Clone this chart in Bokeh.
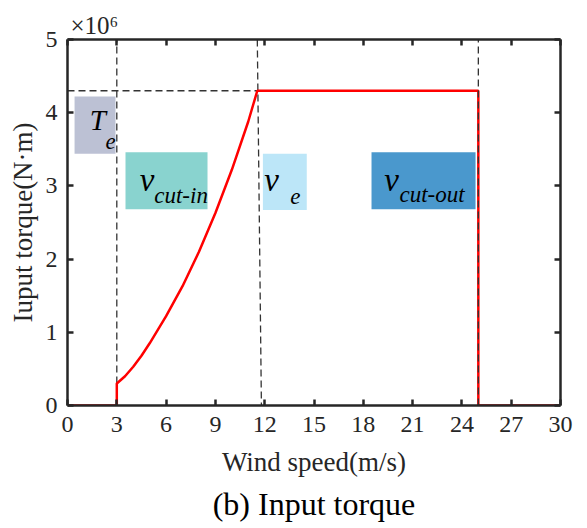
from bokeh.plotting import figure
from bokeh.models import Label, LinearAxis, FixedTicker, Range1d, Title
from bokeh.embed import file_html
from bokeh.resources import INLINE

# ---- data (torque in units of 10^6 N·m) ----
wind_speed = [0, 3, 3, 3.5, 4, 4.5, 5, 6, 7, 8, 9, 10, 11, 11.55, 25, 25, 30]
torque_1e6 = [0, 0, 0.30, 0.40, 0.53, 0.68, 0.85, 1.22, 1.63, 2.10, 2.63, 3.22, 3.88, 4.30, 4.30, 0, 0]
rated_torque = 4.30
v_cut_in = 3
v_rated = 11.55
v_cut_out = 25
x_ticks = [0, 3, 6, 9, 12, 15, 18, 21, 24, 27, 30]
y_ticks = [0, 1, 2, 3, 4, 5]

# region boxes (data coordinates) and colours
box_left = [0.43, 3.53, 11.89, 18.5]
box_right = [2.92, 8.52, 14.56, 24.83]
box_bottom = [3.44, 2.68, 2.67, 2.68]
box_top = [4.22, 3.46, 3.44, 3.46]
box_colors = ["#bcc1d4", "#89d3cf", "#bce6f8", "#4a98cd"]

FONT = "Liberation Serif"
AX = "#262626"

p = figure(width=587, height=528, output_backend="svg", toolbar_location=None,
           x_range=Range1d(0, 30), y_range=Range1d(0, 5),
           min_border_left=67, min_border_right=27, min_border_top=39, min_border_bottom=123,
           x_axis_label="Wind speed(m/s)", y_axis_label="Iuput torque(N·m)")
p.outline_line_color = None
p.xgrid.visible = False
p.ygrid.visible = False
p.background_fill_color = "white"
p.border_fill_color = "white"

p.xaxis.ticker = FixedTicker(ticks=x_ticks)
p.yaxis.ticker = FixedTicker(ticks=y_ticks)

def style_axis(ax, labels=True):
    ax.axis_line_color = AX
    ax.axis_line_width = 2.5
    ax.major_tick_line_color = AX
    ax.major_tick_line_width = 2.5
    ax.major_tick_in = 6
    ax.major_tick_out = 0
    ax.minor_tick_line_color = None
    ax.major_label_text_font = FONT
    ax.major_label_text_font_size = "24px" if labels else "1px"
    ax.major_label_text_color = AX if labels else None
    ax.axis_label_text_font = FONT
    ax.axis_label_text_font_size = "27px"
    ax.axis_label_text_font_style = "normal"
    ax.axis_label_text_color = AX

for ax in p.xaxis:
    style_axis(ax)
    ax.major_label_standoff = 11
    ax.axis_label_standoff = 12
for ax in p.yaxis:
    style_axis(ax)
    ax.major_label_standoff = 10
    ax.axis_label_standoff = 5

top_ax = LinearAxis(ticker=FixedTicker(ticks=x_ticks))
style_axis(top_ax, labels=False)
top_ax.major_label_standoff = 0
right_ax = LinearAxis(ticker=FixedTicker(ticks=y_ticks))
style_axis(right_ax, labels=False)
right_ax.major_label_standoff = 0
p.add_layout(top_ax, "above")
p.add_layout(right_ax, "right")

# exponent marker above the frame
p.add_layout(Title(text="×10⁶", align="left", offset=3, standoff=1,
                   text_font=FONT, text_font_size="25px", text_font_style="normal",
                   text_color=AX), "above")

# caption below the x label
p.add_layout(Title(text="(b) Input torque", align="center", offset=6, standoff=8,
                   text_font=FONT, text_font_size="32px", text_font_style="normal",
                   text_color="black"), "below")

# region boxes
p.quad(left=box_left, right=box_right, bottom=box_bottom, top=box_top,
       fill_color=box_colors, line_color=None)

dash = dict(line_color="#333333", line_width=1.3, line_dash="7 4")
p.segment(x0=[v_cut_in], y0=[0], x1=[v_cut_in], y1=[5], **dash)
p.segment(x0=[v_rated], y0=[5], x1=[11.8], y1=[0], **dash)
p.segment(x0=[0], y0=[rated_torque], x1=[v_rated], y1=[rated_torque], **dash)

# torque curve
p.line(wind_speed, torque_1e6, line_color="#ff0000", line_width=2.5)

p.segment(x0=[v_cut_out], y0=[0], x1=[v_cut_out], y1=[5], **dash)

def lab(x, y, text, size, style="italic"):
    p.add_layout(Label(x=x, y=y, text=text, text_font=FONT, text_font_size=size,
                       text_font_style=style, text_color="black",
                       text_baseline="alphabetic", text_align="left"))

lab(1.35, 3.90, "T", "29px")
lab(2.31, 3.61, "e", "23px")
lab(4.40, 3.08, "v", "33px")
lab(5.28, 2.87, "cut-in", "23px")
lab(11.98, 3.08, "v", "33px")
lab(13.55, 2.85, "e", "23px")
lab(19.28, 3.08, "v", "33px")
lab(20.20, 2.88, "cut-out", "23px")

open("out.html", "w").write(file_html(p, INLINE))
